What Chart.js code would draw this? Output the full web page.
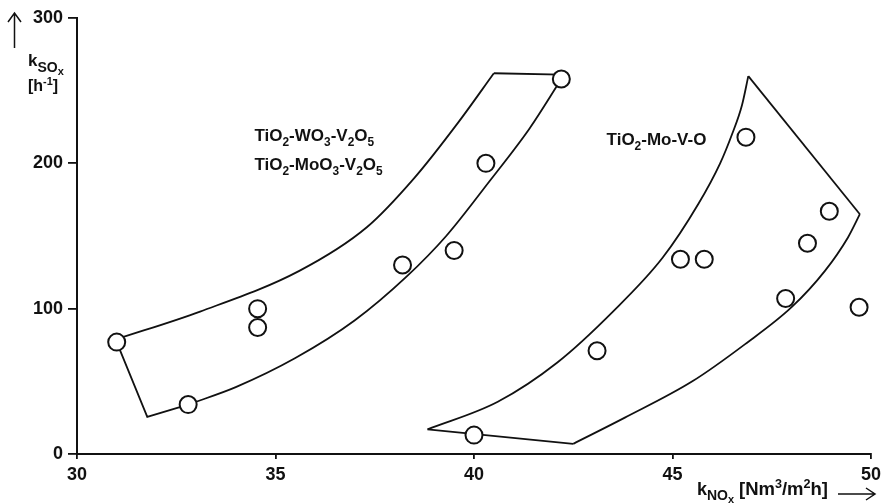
<!DOCTYPE html>
<html>
<head>
<meta charset="utf-8">
<script src="https://cdn.jsdelivr.net/npm/chart.js@4.4.1/dist/chart.umd.min.js"></script>
<style>
  html, body { margin: 0; padding: 0; background: #fff; }
  #wrap { width: 886px; height: 503px; position: relative; }
</style>
</head>
<body>
<div id="wrap"><canvas id="kChart"></canvas></div>
<script>
// axis ticks
const xTicks = [30, 35, 40, 45, 50];
const yTicks = [0, 100, 200, 300];

// TiO2-WO3-V2O5 / TiO2-MoO3-V2O5 catalysts (k_NOx, k_SOx)
const wvX = [31.0, 32.8, 34.55, 34.55, 38.2, 39.5, 40.3, 42.2];
const wvY = [77, 34, 100, 87, 130, 140, 200, 258];

// TiO2-Mo-V-O catalysts
const mvX = [40.0, 43.1, 45.2, 45.8, 46.85, 47.85, 48.4, 48.95, 49.7];
const mvY = [13, 71, 134, 134, 218, 107, 145, 167, 101];

// envelope around the W/Mo-V group
const wvUpperX = [31.0, 33.1, 35.6, 37.3, 38.5, 39.6, 40.5];
const wvUpperY = [79, 98, 126, 156, 190, 228, 262];
const wvLowerX = [32.8, 34.0, 35.5, 37.0, 38.3, 39.3, 40.4, 41.4, 42.2];
const wvLowerY = [34, 46, 66, 92, 122, 150, 188, 224, 258];
const wvTopX = [40.5, 42.2];
const wvTopY = [262, 261];
const wvFootX = [31.0, 31.77, 32.8];
const wvFootY = [77, 25.5, 34];

// envelope around the Mo-V-O group
const mvLeftX = [38.83, 40.6, 42.1, 43.5, 44.75, 45.65, 46.2, 46.5, 46.75, 46.91];
const mvLeftY = [17, 36, 63, 98, 135, 172, 200, 220, 240, 260];
const mvRightX = [42.5, 43.8, 45.5, 46.83, 48.0, 48.84, 49.42, 49.72];
const mvRightY = [7, 25, 50, 75.6, 101, 126, 149, 165];
const mvBottomX = [38.83, 42.5];
const mvBottomY = [17, 7];
const mvEdgeX = [49.72, 46.91];
const mvEdgeY = [165, 260];

const FONT = '"Liberation Sans", Arial, Helvetica, sans-serif';

function pts(xs, ys) {
    return xs.map((x, i) => ({ x: x, y: ys[i] }));
}

function outline(xs, ys, curved) {
    return {
        data: pts(xs, ys),
        showLine: true,
        pointRadius: 0,
        borderColor: '#111',
        borderWidth: 1.8,
        fill: false,
        order: 2,
        cubicInterpolationMode: curved ? 'monotone' : 'default',
        tension: 0
    };
}

function markers(xs, ys) {
    return {
        data: pts(xs, ys),
        showLine: false,
        pointStyle: 'circle',
        pointRadius: 8.5,
        pointBorderWidth: 2,
        pointBorderColor: '#111',
        pointBackgroundColor: '#fff',
        order: 1
    };
}

// text with sub/superscript pieces
function drawRich(ctx, x, y, parts, size) {
    let cx = x;
    parts.forEach(function(p) {
        let s = size, dy = 0;
        if (p[1] === 'sub') { s = size * 0.7; dy = size * 0.3; }
        if (p[1] === 'sup') { s = size * 0.68; dy = -size * 0.4; }
        if (p[2]) s = p[2];
        if (p[3]) dy = p[3];
        ctx.font = 'bold ' + s + 'px ' + FONT;
        ctx.fillText(p[0], cx, y + dy);
        cx += ctx.measureText(p[0]).width;
    });
    return cx;
}

const labelsPlugin = {
    id: 'labels',
    afterDraw(chart) {
        const ctx = chart.ctx;
        const xs = chart.scales.x, ys = chart.scales.y;
        ctx.save();
        ctx.fillStyle = '#111';
        ctx.strokeStyle = '#111';
        ctx.textBaseline = 'alphabetic';
        ctx.textAlign = 'left';

        // group names
        drawRich(ctx, xs.getPixelForValue(34.47), ys.getPixelForValue(215.5),
            [['TiO'], ['2', 'sub'], ['-WO'], ['3', 'sub'], ['-V'], ['2', 'sub'], ['O'], ['5', 'sub']], 17);
        drawRich(ctx, xs.getPixelForValue(34.47), ys.getPixelForValue(195.5),
            [['TiO'], ['2', 'sub'], ['-MoO'], ['3', 'sub'], ['-V'], ['2', 'sub'], ['O'], ['5', 'sub']], 17);
        drawRich(ctx, xs.getPixelForValue(43.34), ys.getPixelForValue(212.5),
            [['TiO'], ['2', 'sub'], ['-Mo-V-O']], 17);

        // y axis title
        drawRich(ctx, 28, 66, [['k', 'n', 17], ['SO', 'n', 14, 6], ['x', 'n', 11, 9]], 17);
        drawRich(ctx, 28, 91, [['[h'], ['-1', 'sup'], [']']], 16);

        // x axis title
        drawRich(ctx, 697, 495, [['k', 'n', 18], ['NO', 'n', 14, 5], ['x', 'n', 11, 8]], 18);
        drawRich(ctx, 739, 495, [['[Nm'], ['3', 'sup'], ['/m'], ['2', 'sup'], ['h]']], 18.5);

        // arrows
        ctx.lineWidth = 1.5;
        ctx.beginPath();
        ctx.moveTo(14.5, 48); ctx.lineTo(14.5, 13);
        ctx.moveTo(8, 22); ctx.lineTo(14.5, 13); ctx.lineTo(21, 22);
        ctx.moveTo(838, 494); ctx.lineTo(875, 494);
        ctx.moveTo(866, 488); ctx.lineTo(875, 494); ctx.lineTo(866, 500);
        ctx.stroke();
        ctx.restore();
    }
};

new Chart(document.getElementById('kChart'), {
    type: 'scatter',
    data: {
        datasets: [
            markers(wvX, wvY),
            markers(mvX, mvY),
            outline(wvUpperX, wvUpperY, true),
            outline(wvLowerX, wvLowerY, true),
            outline(wvTopX, wvTopY, false),
            outline(wvFootX, wvFootY, false),
            outline(mvLeftX, mvLeftY, true),
            outline(mvRightX, mvRightY, true),
            outline(mvBottomX, mvBottomY, false),
            outline(mvEdgeX, mvEdgeY, false)
        ]
    },
    options: {
        responsive: true,
        maintainAspectRatio: false,
        animation: false,
        events: [],
        layout: { padding: { left: 0, top: 18, right: 13, bottom: 0 } },
        plugins: {
            legend: { display: false },
            tooltip: { enabled: false }
        },
        scales: {
            x: {
                type: 'linear',
                min: 30,
                max: 50,
                afterBuildTicks: function(scale) {
                    scale.ticks = xTicks.map(v => ({ value: v }));
                },
                afterFit: function(scale) { scale.height = 49; },
                border: { display: true, color: '#111', width: 2 },
                grid: { drawOnChartArea: false, tickLength: 5, color: '#111', lineWidth: 1.8 },
                ticks: {
                    padding: 5,
                    color: '#111',
                    font: { family: FONT, size: 18, weight: 'bold' }
                }
            },
            y: {
                type: 'linear',
                min: 0,
                max: 300,
                afterBuildTicks: function(scale) {
                    scale.ticks = yTicks.map(v => ({ value: v }));
                },
                afterFit: function(scale) { scale.width = 77; },
                border: { display: true, color: '#111', width: 2 },
                grid: { drawOnChartArea: false, tickLength: 9, color: '#111', lineWidth: 1.8 },
                ticks: {
                    padding: 5,
                    color: '#111',
                    font: { family: FONT, size: 18, weight: 'bold' }
                }
            }
        }
    },
    plugins: [labelsPlugin]
});
</script>
</body>
</html>
